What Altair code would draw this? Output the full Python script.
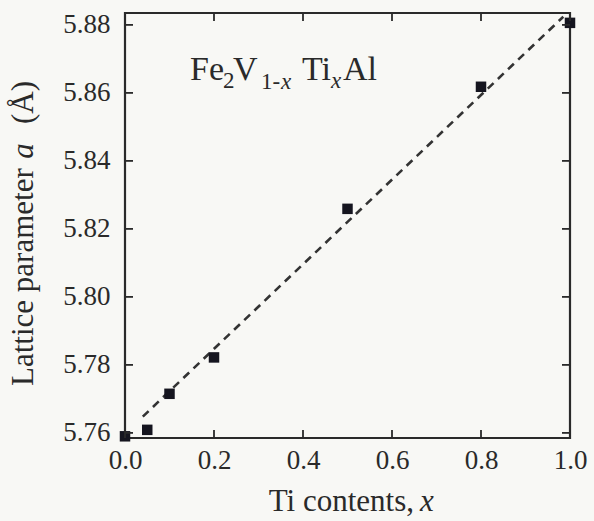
import altair as alt
import pandas as pd

# ---- data ----
ti_x = [0.0, 0.05, 0.1, 0.2, 0.5, 0.8, 1.0]
lattice_a = [5.759, 5.7609, 5.7715, 5.7822, 5.8259, 5.8618, 5.8806]

fit_x = [0.04, 0.985]
fit_y = [5.7648, 5.8824]

x_ticks = [0.0, 0.2, 0.4, 0.6, 0.8, 1.0]
y_ticks = [5.76, 5.78, 5.80, 5.82, 5.84, 5.86, 5.88]

# ---- layout / style ----
W, H = 445, 425
TICK = 8
FONT = "Liberation Serif"
INK = "#2a2a2a"
X_DOM = [0.0, 1.0]
Y_DOM = [5.7585, 5.8835]

pts = pd.DataFrame({"x": ti_x, "a": lattice_a})
fit = pd.DataFrame({"x": fit_x, "a": fit_y})
xt = pd.DataFrame({"x": x_ticks})
yt = pd.DataFrame({"a": y_ticks})

xs = alt.Scale(domain=X_DOM, nice=False, zero=False)
ys = alt.Scale(domain=Y_DOM, nice=False, zero=False)

xaxis = alt.Axis(values=x_ticks, format=".1f", title=None, grid=False, domain=False,
                 tickSize=0, labelPadding=9, labelFont=FONT, labelFontSize=27,
                 labelColor=INK, labelFlush=False)
yaxis = alt.Axis(values=y_ticks, format=".2f", title=None, grid=False, domain=False,
                 tickSize=0, labelPadding=15, labelFont=FONT, labelFontSize=27,
                 labelColor=INK, labelFlush=False)

points = alt.Chart(pts).mark_point(shape="square", filled=True, size=110,
                                   color="#15151f", opacity=1).encode(
    x=alt.X("x:Q", scale=xs, axis=xaxis),
    y=alt.Y("a:Q", scale=ys, axis=yaxis),
)

line = alt.Chart(fit).mark_line(color="#333333", strokeWidth=2.6,
                                strokeDash=[8, 6]).encode(
    x=alt.X("x:Q", scale=xs), y=alt.Y("a:Q", scale=ys))

tick_style = dict(color=INK, strokeWidth=1.8)
left_t = alt.Chart(yt).mark_rule(**tick_style).encode(
    y=alt.Y("a:Q", scale=ys), x=alt.value(0), x2=alt.value(TICK))
right_t = alt.Chart(yt).mark_rule(**tick_style).encode(
    y=alt.Y("a:Q", scale=ys), x=alt.value(W - TICK), x2=alt.value(W))
bot_t = alt.Chart(xt).mark_rule(**tick_style).encode(
    x=alt.X("x:Q", scale=xs), y=alt.value(H - TICK), y2=alt.value(H))
top_t = alt.Chart(xt).mark_rule(**tick_style).encode(
    x=alt.X("x:Q", scale=xs), y=alt.value(0), y2=alt.value(TICK))

def txt(s, x, y, size, italic=False, align="left", angle=0, baseline="alphabetic"):
    kw = dict(text=s, font=FONT, fontSize=size, color=INK, align=align,
              baseline=baseline, fontStyle="italic" if italic else "normal")
    if angle:
        kw["angle"] = angle
    return alt.Chart(pts.head(1)).mark_text(**kw).encode(
        x=alt.value(x), y=alt.value(y))

# formula Fe2V1-xTixAl (plot-area pixel coords)
BASE, SUB, SUB2 = 67, 75, 76
MAIN_FS, SUB_FS = 34, 23
formula = [
    txt("Fe", 65, BASE, MAIN_FS),
    txt("2", 98, SUB, SUB_FS),
    txt("V", 108, BASE, MAIN_FS),
    txt("1-", 136, SUB2, SUB_FS),
    txt("x", 156, SUB2, SUB_FS, italic=True),
    txt("Ti", 177, BASE, MAIN_FS),
    txt("x", 206, SUB, SUB_FS, italic=True),
    txt("Al", 218, BASE, MAIN_FS),
]

# axis titles
TFS = 31
titles = [
    txt("Ti contents,", 289, 498, TFS, align="right"),
    txt("x", 295, 498, TFS, italic=True),
    txt("Lattice parameter", -92, 373, TFS, align="left", angle=270),
    txt("a", -92, 138, TFS, italic=True, align="center", angle=270),
    txt("(Å)", -92, 68, TFS, align="right", angle=270),
]

chart = alt.layer(line, points, left_t, right_t, bot_t, top_t, *formula, *titles).properties(
    width=W, height=H,
    padding={"left": 125, "top": 13, "right": 24, "bottom": 83},
    autosize=alt.AutoSizeParams(type="none"),
    background="#f8f8f5",
).configure_view(stroke=INK, strokeWidth=2.2).configure_axis(labelFont=FONT)

chart.save("out.html", embed_options={"renderer": "svg", "actions": False})
